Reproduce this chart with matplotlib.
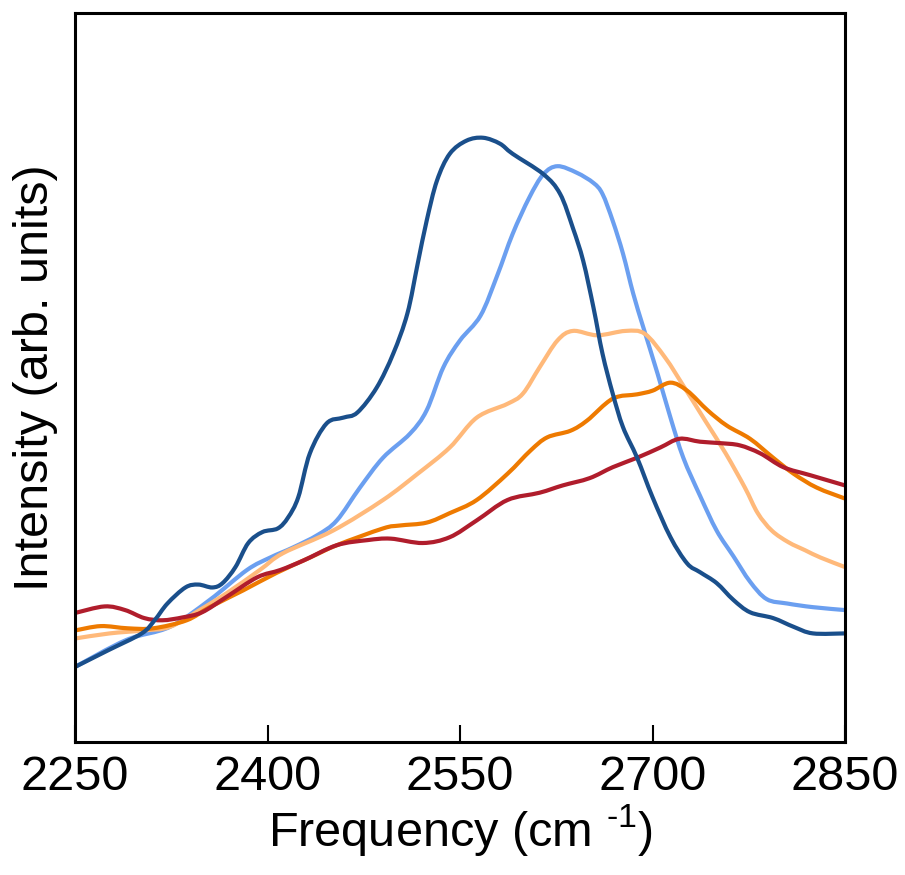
import matplotlib
matplotlib.use("Agg")
import matplotlib.pyplot as plt
from matplotlib.path import Path
from matplotlib.patches import PathPatch
import numpy as np

plt.rcParams["font.family"] = ["Liberation Sans", "DejaVu Sans"]
plt.rcParams["mathtext.fontset"] = "custom"
plt.rcParams["mathtext.rm"] = "Liberation Sans"

# Widma (częstotliwość w cm^-1, natężenie w j. umownych)
f_dblue = [2250, 2276, 2302, 2312, 2322, 2336, 2346, 2357, 2365, 2375, 2385, 2396,
           2408, 2416, 2424, 2433, 2446, 2459, 2470, 2485, 2498, 2509, 2517, 2524,
           2532, 2542, 2555, 2568, 2581, 2591, 2615, 2628, 2638, 2646, 2654, 2661,
           2669, 2677, 2688, 2700, 2714, 2727, 2737, 2750, 2763, 2776, 2794, 2810,
           2825, 2850]
i_dblue = [10.3, 12.6, 14.9, 16.7, 19.0, 21.2, 21.6, 21.2, 21.8, 24.0, 27.3, 28.8,
           29.3, 30.8, 33.6, 39.6, 43.7, 44.5, 45.2, 48.6, 53.3, 58.8, 65.6, 71.5,
           77.0, 80.7, 82.5, 82.9, 82.1, 80.7, 77.9, 75.2, 70.5, 66.0, 59.6, 53.3,
           47.8, 43.2, 39.0, 33.6, 28.1, 24.5, 23.3, 21.8, 19.5, 17.8, 17.0, 15.8,
           14.9, 14.9]

f_lblue = [2250, 2290, 2324, 2355, 2384, 2402, 2420, 2439, 2454, 2472, 2490, 2511,
           2524, 2537, 2550, 2566, 2579, 2591, 2604, 2615, 2626, 2641, 2654, 2661,
           2669, 2677, 2685, 2693, 2704, 2714, 2724, 2737, 2750, 2763, 2776, 2789,
           2805, 2825, 2850]
i_lblue = [10.3, 14.0, 15.8, 19.5, 23.6, 25.3, 26.7, 28.4, 30.4, 34.9, 39.0, 42.3,
           45.5, 51.4, 55.1, 58.5, 64.0, 69.7, 74.7, 77.9, 79.0, 78.1, 76.7, 75.2,
           71.5, 67.0, 61.5, 56.8, 50.5, 44.5, 39.0, 33.8, 29.0, 25.5, 22.0, 19.6,
           19.0, 18.5, 18.1]

f_lorange = [2250, 2277, 2303, 2324, 2347, 2368, 2394, 2412, 2451, 2490, 2517, 2542,
             2563, 2587, 2599, 2612, 2626, 2638, 2657, 2679, 2694, 2710, 2725, 2741,
             2757, 2772, 2782, 2793, 2806, 2819, 2831, 2850]
i_lorange = [14.2, 14.9, 15.3, 15.8, 18.1, 20.4, 23.6, 25.9, 29.0, 33.2, 36.8, 40.4,
             44.5, 46.4, 47.8, 51.4, 55.1, 56.4, 55.8, 56.4, 56.0, 52.7, 48.6, 44.1,
             39.6, 34.9, 31.4, 29.0, 27.4, 26.3, 25.3, 24.0]

f_orange = [2250, 2270, 2291, 2311, 2337, 2355, 2381, 2407, 2433, 2454, 2490, 2503,
            2524, 2542, 2563, 2587, 2605, 2618, 2636, 2649, 2669, 2688, 2700, 2714,
            2727, 2743, 2758, 2776, 2794, 2810, 2828, 2850]
i_orange = [15.3, 15.9, 15.6, 15.6, 16.7, 18.5, 20.8, 23.2, 25.3, 27.0, 29.3, 29.7,
            30.1, 31.4, 33.2, 36.8, 40.0, 41.8, 42.7, 44.1, 47.1, 47.7, 48.2, 49.3,
            48.2, 45.5, 43.4, 41.6, 39.0, 36.8, 34.9, 33.4]

f_red = [2250, 2273, 2289, 2304, 2318, 2334, 2349, 2368, 2392, 2410, 2428, 2454,
         2478, 2496, 2521, 2542, 2563, 2587, 2612, 2630, 2651, 2669, 2688, 2706,
         2721, 2737, 2753, 2768, 2784, 2802, 2823, 2850]
i_red = [17.7, 18.6, 18.1, 17.0, 16.7, 17.1, 17.8, 19.9, 22.6, 23.6, 24.9, 27.0,
         27.7, 27.9, 27.3, 28.1, 30.4, 33.2, 34.2, 35.2, 36.2, 37.7, 39.0, 40.4,
         41.6, 41.2, 41.0, 40.7, 39.6, 37.7, 36.6, 35.2]


def smooth_path(x, y):
    # krzywa Catmull-Rom -> Bezier przez odczytane punkty (tylko rysowanie)
    p = np.column_stack([x, y]).astype(float)
    pp = np.vstack([p[0], p, p[-1]])
    verts = [p[0]]
    codes = [Path.MOVETO]
    for k in range(1, len(pp) - 2):
        p0, p1, p2, p3 = pp[k - 1], pp[k], pp[k + 1], pp[k + 2]
        c1 = p1 + (p2 - p0) / 6.0
        c2 = p2 - (p3 - p1) / 6.0
        verts += [c1, c2, p2]
        codes += [Path.CURVE4] * 3
    return Path(verts, codes)


fig = plt.figure(figsize=(9.05, 8.75), dpi=100)
ax = fig.add_axes([0.0829, 0.152, 0.8508, 0.833])

series = [
    (f_lblue, i_lblue, "#6b9ff0"),
    (f_lorange, i_lorange, "#ffb97a"),
    (f_orange, i_orange, "#ee7a00"),
    (f_red, i_red, "#b01d2c"),
    (f_dblue, i_dblue, "#1a4f8b"),
]
for fx, iy, col in series:
    ax.add_patch(PathPatch(smooth_path(fx, iy), facecolor="none", edgecolor=col,
                           lw=3.0, capstyle="butt", joinstyle="round"))

ax.set_xlim(2250, 2850)
ax.set_ylim(0, 100)
ax.set_xticks([2250, 2400, 2550, 2700, 2850])
ax.set_yticks([])
ax.tick_params(axis="x", direction="in", length=12, width=1.5, labelsize=35, pad=9)
for s in ax.spines.values():
    s.set_linewidth(2.2)
    s.set_zorder(5)

ax.set_xlabel(r"Frequency (cm $^{\text{-1}}$)", fontsize=35, labelpad=2)
ax.set_ylabel("Intensity (arb. units)", fontsize=35, labelpad=12)

plt.savefig("out.png", dpi=100)
